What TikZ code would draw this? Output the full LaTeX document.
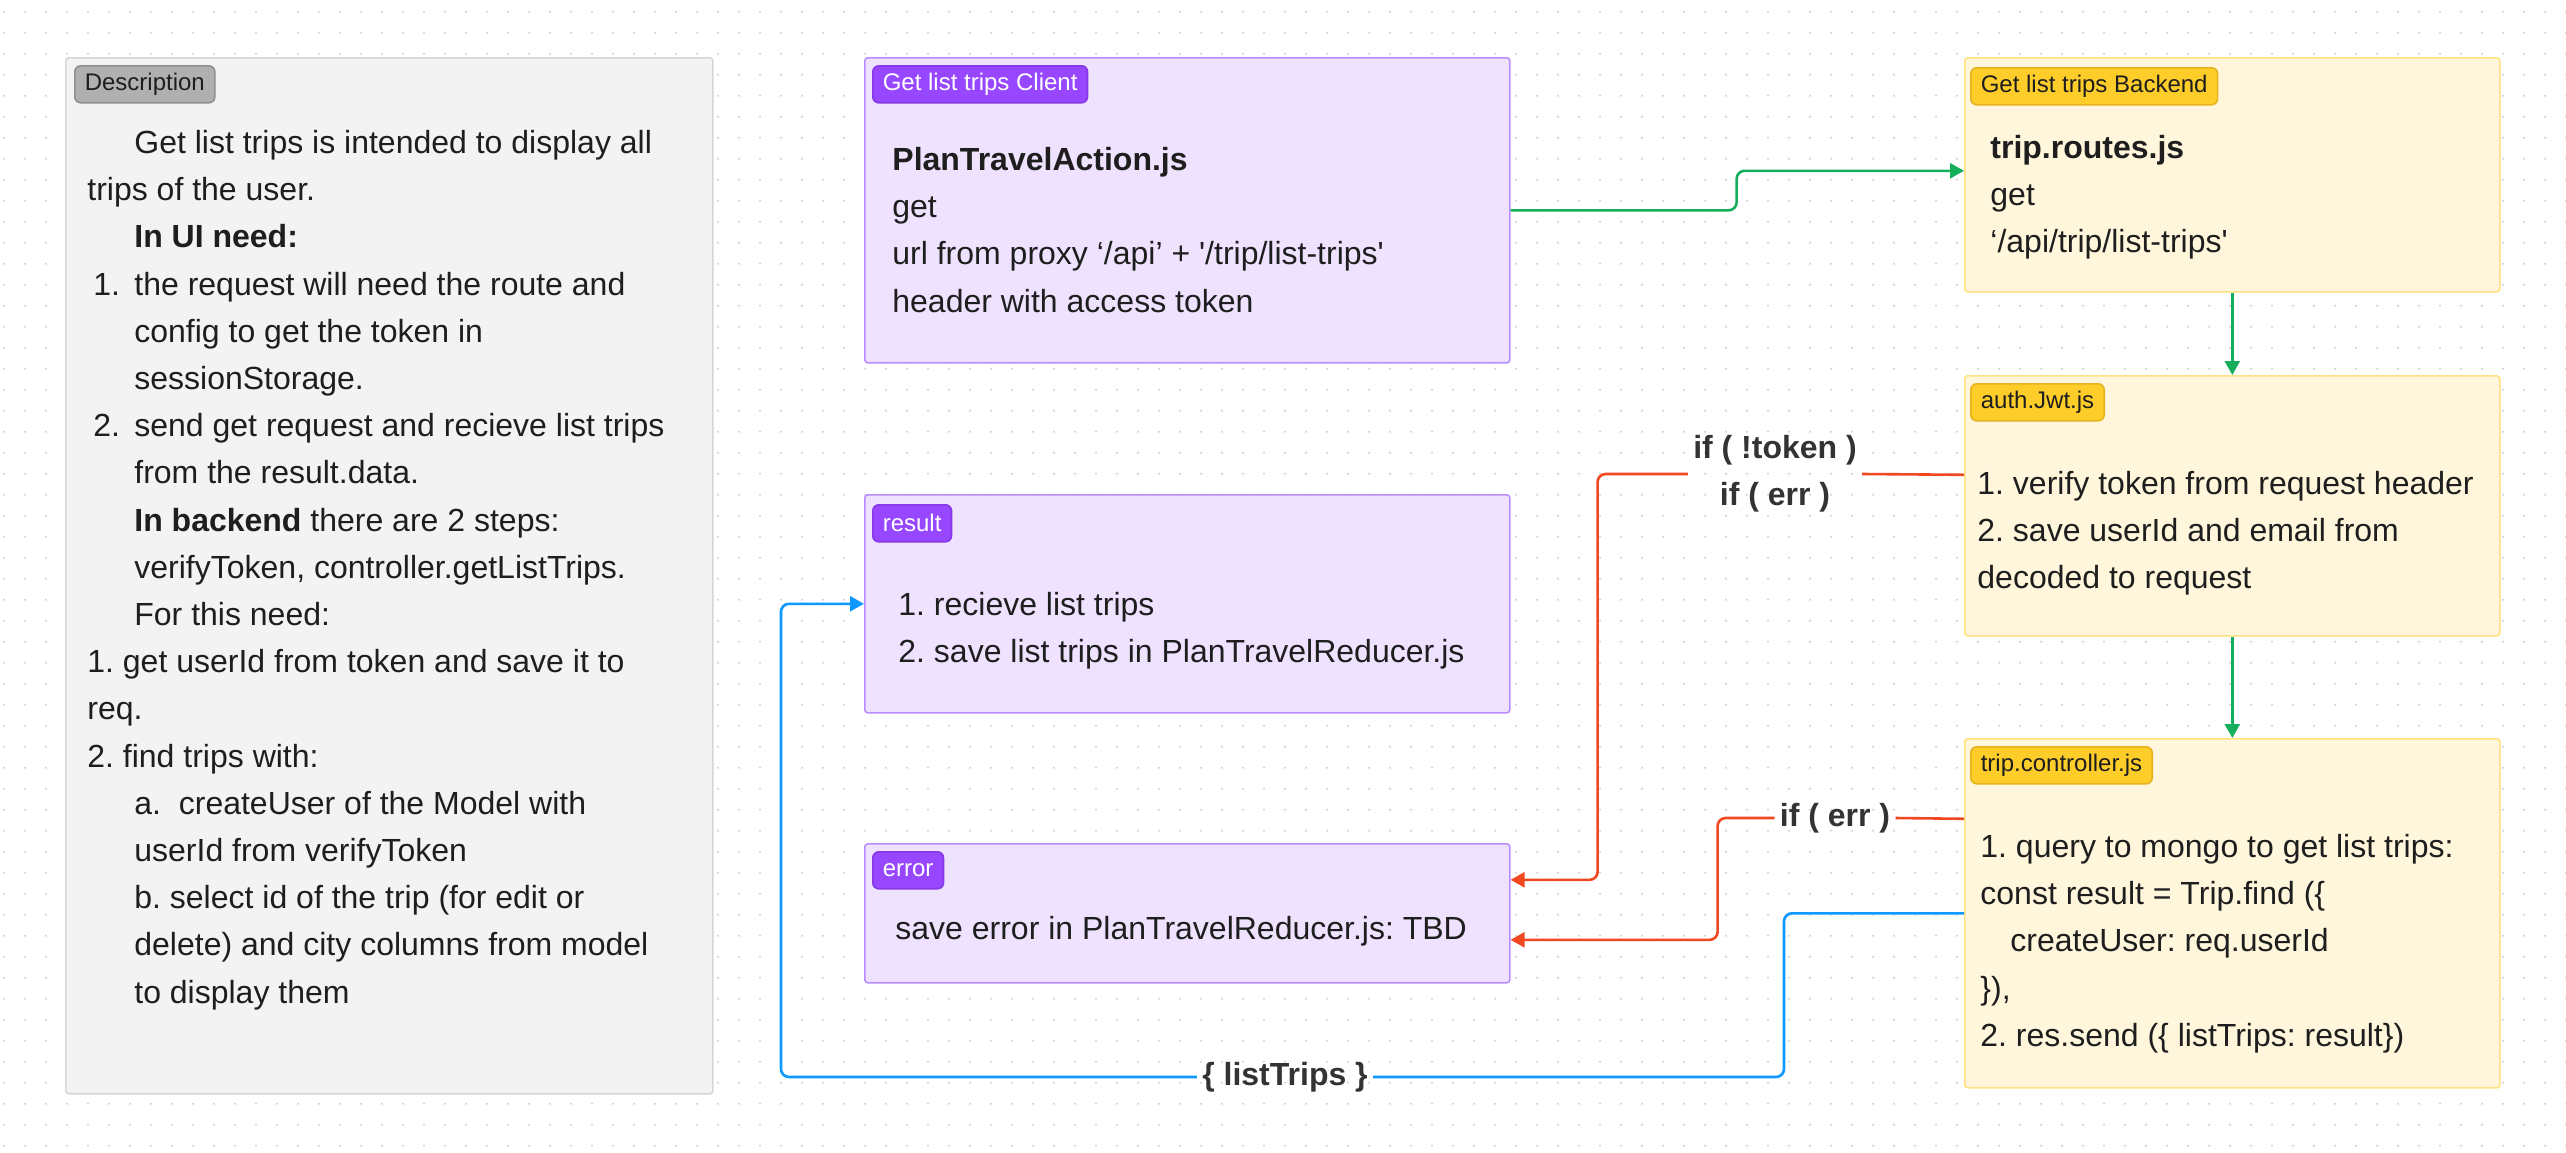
\documentclass[tikz,border=0pt]{standalone}
\usepackage{fontspec}
\setmainfont{Liberation Sans}
\usetikzlibrary{arrows.meta,calc}
\definecolor{txt}{HTML}{1E1E1E}
\definecolor{lbltxt}{HTML}{333333}
\definecolor{dotc}{HTML}{D2D2D2}
\definecolor{descfill}{HTML}{F3F3F3}
\definecolor{descdraw}{HTML}{D6D6D6}
\definecolor{desctagfill}{HTML}{B0B0B0}
\definecolor{desctagdraw}{HTML}{8F8F8F}
\definecolor{purfill}{HTML}{EFE2FF}
\definecolor{purdraw}{HTML}{B98CFF}
\definecolor{purtag}{HTML}{9747FF}
\definecolor{purtagdraw}{HTML}{8638E5}
\definecolor{yelfill}{HTML}{FFF6DC}
\definecolor{yeldraw}{HTML}{FFE27F}
\definecolor{yeltag}{HTML}{FFCD29}
\definecolor{yeltagdraw}{HTML}{E5B31F}
\definecolor{grn}{HTML}{14AE5C}
\definecolor{rd}{HTML}{F24822}
\definecolor{bl}{HTML}{0D99FF}
\newcommand{\ind}{\hspace*{23.5pt}}
\newcommand{\numit}[1]{\makebox[23.5pt][l]{\hspace*{3pt}#1}}
\frenchspacing
\begin{document}
\begin{tikzpicture}[x=0.5pt,y=-0.5pt,
  box/.style={rounded corners=1.5pt, inner sep=0pt, line width=0.8pt, anchor=north west},
  descbox/.style={box, fill=descfill, draw=descdraw},
  purbox/.style={box, fill=purfill, draw=purdraw},
  yelbox/.style={box, fill=yelfill, draw=yeldraw},
  tag/.style={rounded corners=3pt, anchor=north west, inner xsep=5pt, inner ysep=0pt,
    minimum height=18.5pt, line width=0.8pt, font=\fontsize{12pt}{14pt}\selectfont\frenchspacing},
  desctag/.style={tag, fill=desctagfill, draw=desctagdraw, text=txt},
  purtagst/.style={tag, fill=purtag, draw=purtagdraw, text=white},
  yeltagst/.style={tag, fill=yeltag, draw=yeltagdraw, text=txt},
  txtblock/.style={anchor=north west, inner sep=0pt, align=left, text=txt,
    font=\fontsize{16pt}{23.6pt}\selectfont\frenchspacing},
  conn/.style={line width=1.3pt, rounded corners=4pt},
  tip/.style={-{Triangle[length=7pt,width=7.5pt]}},
  lbl/.style={inner xsep=2.5pt, inner ysep=0pt, align=center, text=lbltxt,
    font=\fontsize{16pt}{23.6pt}\selectfont\bfseries\frenchspacing},
  dotrow/.style={dotc, line width=1.2pt, line cap=round, dash pattern=on 0pt off 10.5pt}
]
\useasboundingbox (0,0) rectangle (2566,1152);
\fill[white] (0,0) rectangle (2566,1152);
\foreach \j in {0,...,54} {\draw[dotrow] (4,11.7+21*\j) -- (2566,11.7+21*\j);}

% boxes
\node[descbox, minimum width=323.5pt, minimum height=518pt] (desc) at (65,57) {};
\node[purbox, minimum width=322.5pt, minimum height=152.5pt] (client) at (864,57) {};
\node[purbox, minimum width=322.5pt, minimum height=109pt] (result) at (864,494) {};
\node[purbox, minimum width=322.5pt, minimum height=69.5pt] (error) at (864,843) {};
\node[yelbox, minimum width=267.5pt, minimum height=117pt] (backend) at (1964,57) {};
\node[yelbox, minimum width=267.5pt, minimum height=130pt] (auth) at (1964,375) {};
\node[yelbox, minimum width=267.5pt, minimum height=174.5pt] (ctrl) at (1964,738) {};

% tags
\node[desctag] (desctg) at ([shift={(4.5pt,-4pt)}]desc.north west) {Description};
\node[purtagst] (clienttg) at ([shift={(4pt,-4pt)}]client.north west) {Get list trips Client};
\node[purtagst] (resulttg) at ([shift={(4pt,-5pt)}]result.north west) {result};
\node[purtagst] (errortg) at ([shift={(4pt,-4pt)}]error.north west) {error};
\node[yeltagst] (backendtg) at ([shift={(3pt,-5pt)}]backend.north west) {Get list trips Backend};
\node[yeltagst] (authtg) at ([shift={(3pt,-4pt)}]auth.north west) {auth.Jwt.js};
\node[yeltagst] (ctrltg) at ([shift={(3pt,-4pt)}]ctrl.north west) {trip.controller.js};

% texts
\node[txtblock] (desctxt) at (87,129) {\rule{0pt}{12pt}\ind Get list trips is intended to display all\\
trips of the user.\\
\ind\textbf{In UI need:}\\
\numit{1.}the request will need the route and\\
\ind config to get the token in\\
\ind sessionStorage.\\
\numit{2.}send get request and recieve list trips\\
\ind from the result.data.\\
\ind\textbf{In backend} there are 2 steps:\\
\ind verifyToken, controller.getListTrips.\\
\ind For this need:\\
1. get userId from token and save it to\\
req.\\
2. find trips with:\\
\ind a.\ \ createUser of the Model with\\
\ind userId from verifyToken\\
\ind b. select id of the trip (for edit or\\
\ind delete) and city columns from model\\
\ind to display them};

\node[txtblock] (clienttxt) at (892,146) {\rule{0pt}{12pt}\textbf{PlanTravelAction.js}\\
get\\
url from proxy ‘/api’ + \textquotesingle/trip/list-trips\textquotesingle\\
header with access token};

\node[txtblock] (backendtxt) at (1990,134) {\rule{0pt}{12pt}\textbf{trip.routes.js}\\
get\\
‘/api/trip/list-trips\textquotesingle};

\node[txtblock] (authtxt) at (1977,470) {\rule{0pt}{12pt}1. verify token from request header\\
2. save userId and email from\\
decoded to request};

\node[txtblock] (ctrltxt) at (1980,833) {\rule{0pt}{12pt}1. query to mongo to get list trips:\\
const result = Trip.find (\{\\
\hspace*{15pt}createUser: req.userId\\
\}),\\
2. res.send (\{ listTrips: result\})};

\node[txtblock] (resulttxt) at (898,591) {\rule{0pt}{12pt}1. recieve list trips\\
2. save list trips in PlanTravelReducer.js};

\node[txtblock] (errortxt) at (895,915) {\rule{0pt}{12pt}save error in PlanTravelReducer.js: TBD};

% labels
\node[lbl] (lbl1) at (1775,474) {if ( !token )\\if ( err )};
\node[lbl] (lbl2) at (1835,818) {if ( err )};
\node[lbl] (lbl3) at (1285,1077) {\{ listTrips \}};

% connectors
\draw[conn, grn, tip] (client.east) -- ++(226,0) |- ([yshift=2pt]backend.west);
\draw[conn, grn, tip] (backend.south) -- (auth.north);
\draw[conn, grn, tip] (auth.south) -- (ctrl.north);

\draw[conn, rd] ([yshift=15.5pt]auth.west) -- (lbl1.east);
\draw[conn, rd, tip] (lbl1.west) -| ([xshift=43.5pt,yshift=16.75pt]error.east) -- ([yshift=16.75pt]error.east);

\draw[conn, rd] ([yshift=47.25pt]ctrl.west) -- (lbl2.east);
\draw[conn, rd, tip] (lbl2.west) -| ([xshift=103.5pt,yshift=-13.25pt]error.east) -- ([yshift=-13.25pt]error.east);

\draw[conn, bl] (ctrl.west) -- ++(-180,0) |- (lbl3.east);
\draw[conn, bl, tip] (lbl3.west) -| ([xshift=-41.5pt]result.west) -- (result.west);
\end{tikzpicture}
\end{document}
